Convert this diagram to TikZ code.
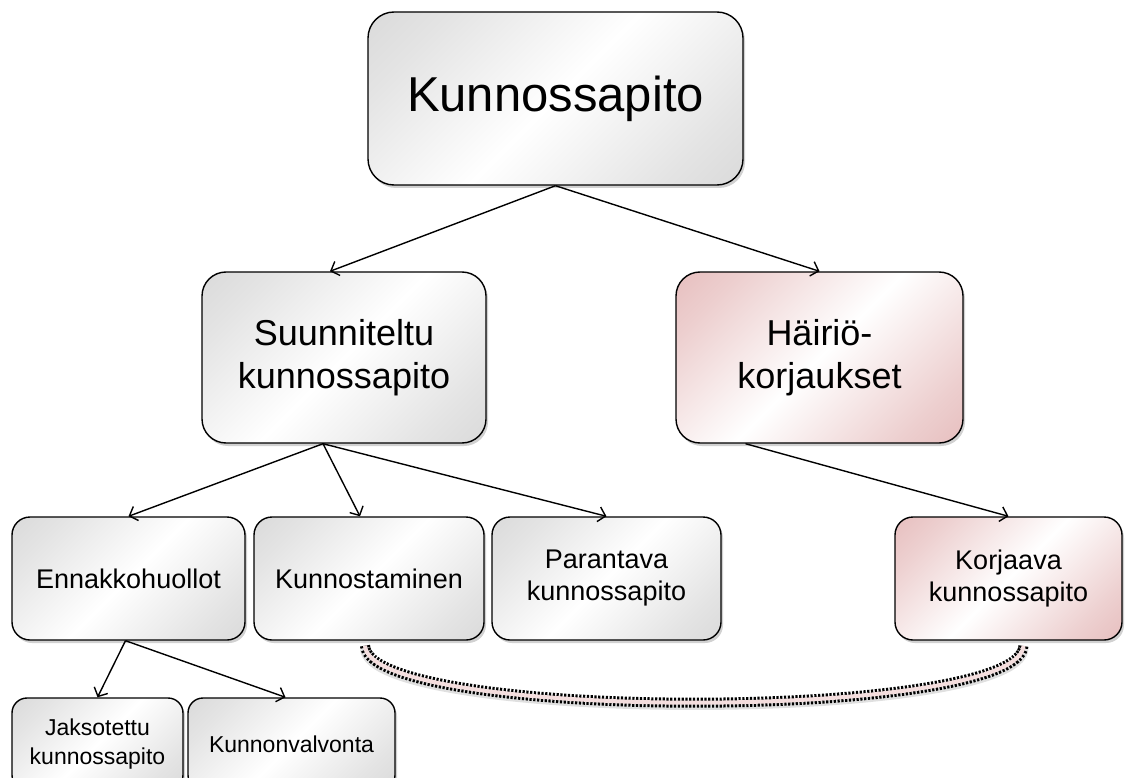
\documentclass[tikz,border=0pt]{standalone}
\usepackage{fontspec}
\setmainfont{Liberation Sans}
\usetikzlibrary{arrows.meta,shadows,calc}
\definecolor{metal}{RGB}{205,205,205}
\definecolor{rosy}{RGB}{222,168,168}
\definecolor{bandpink}{RGB}{244,222,222}
\pgfdeclareverticalshading{metalsh}{100bp}{color(0bp)=(metal); color(25bp)=(metal!55!white); color(50bp)=(white); color(75bp)=(metal!55!white); color(100bp)=(metal)}
\pgfdeclareverticalshading{rosysh}{100bp}{color(0bp)=(rosy); color(25bp)=(rosy!55!white); color(50bp)=(white); color(75bp)=(rosy!55!white); color(100bp)=(rosy)}
\tikzset{
  box/.style={draw=black, line width=1.4pt, align=center, inner sep=0pt,
    drop shadow={shadow xshift=2pt, shadow yshift=-3pt, opacity=0.3, fill=black!60},
    shade, shading=metalsh},
  pinkbox/.style={box, shading=rosysh},
  tilt/.style={shading angle=45},
  big/.style={rounded corners=26pt, font=\fontsize{49pt}{57pt}\selectfont, tilt},
  mid/.style={rounded corners=24pt, font=\fontsize{36pt}{43pt}\selectfont, tilt},
  small/.style={rounded corners=18pt, font=\fontsize{27pt}{32pt}\selectfont, tilt},
  tiny/.style={rounded corners=15pt, font=\fontsize{23pt}{29pt}\selectfont, tilt},
  conn/.style={line width=1.4pt, -{Straight Barb[length=7pt,width=15pt,line width=1.4pt]}},
}
\begin{document}
\begin{tikzpicture}[x=1pt,y=1pt]
\useasboundingbox (0,0) rectangle (1132,-778);
% level 1
\node[box,big,minimum width=375pt,minimum height=173pt] (top) at (555.5,-98.5) {Kunnossapito};
% level 2
\node[box,mid,minimum width=284pt,minimum height=171pt] (suun) at (344,-357.5) {Suunniteltu\\kunnossapito};
\node[pinkbox,mid,minimum width=287pt,minimum height=171pt] (hair) at (819.5,-357.5) {Häiriö-\\korjaukset};
% level 3
\node[box,small,minimum width=233pt,minimum height=123pt] (enn) at (128.5,-578.5) {Ennakkohuollot};
\node[box,small,minimum width=230pt,minimum height=123pt] (kunn) at (369,-578.5) {Kunnostaminen};
\node[box,small,minimum width=229pt,minimum height=123pt] (par) at (606.5,-578.5) {Parantava\\kunnossapito};
\node[pinkbox,small,minimum width=227pt,minimum height=123pt] (korj) at (1008.5,-578.5) {Korjaava\\kunnossapito};
% level 4
\node[box,tiny,minimum width=171pt,minimum height=92pt] (jak) at (97.5,-744) {Jaksotettu\\kunnossapito};
\node[box,tiny,minimum width=207pt,minimum height=92pt] (kval) at (291.5,-744) {Kunnonvalvonta};
% connectors
\draw[conn] (top.south) -- ([xshift=-14pt]suun.north);
\draw[conn] (top.south) -- (hair.north);
\draw[conn] ([xshift=-21pt]suun.south) -- (enn.north);
\draw[conn] ([xshift=-21pt]suun.south) -- ([xshift=-9pt]kunn.north);
\draw[conn] ([xshift=-21pt]suun.south) -- (par.north);
\draw[conn] ([xshift=-74pt]hair.south) -- (korj.north);
\draw[conn] ([xshift=-3pt]enn.south) -- (jak.north);
\draw[conn] ([xshift=-3pt]enn.south) -- ([xshift=-6pt]kval.north);
% dotted link
\coordinate (la) at ([xshift=-4pt,yshift=-5pt]kunn.south);
\coordinate (lb) at ([xshift=15pt,yshift=-5pt]korj.south);
\draw[black!30, line width=10pt, opacity=0.4] ([yshift=-3pt]la) .. controls ([xshift=3pt,yshift=-78pt]la) and ([xshift=-3pt,yshift=-78pt]lb) .. ([yshift=-3pt]lb);
\draw[black, line width=10pt, dash pattern=on 2.2pt off 1.6pt] (la) .. controls ([xshift=3pt,yshift=-76pt]la) and ([xshift=-3pt,yshift=-76pt]lb) .. (lb);
\draw[bandpink, line width=4pt] (la) .. controls ([xshift=3pt,yshift=-76pt]la) and ([xshift=-3pt,yshift=-76pt]lb) .. (lb);
\end{tikzpicture}
\end{document}
